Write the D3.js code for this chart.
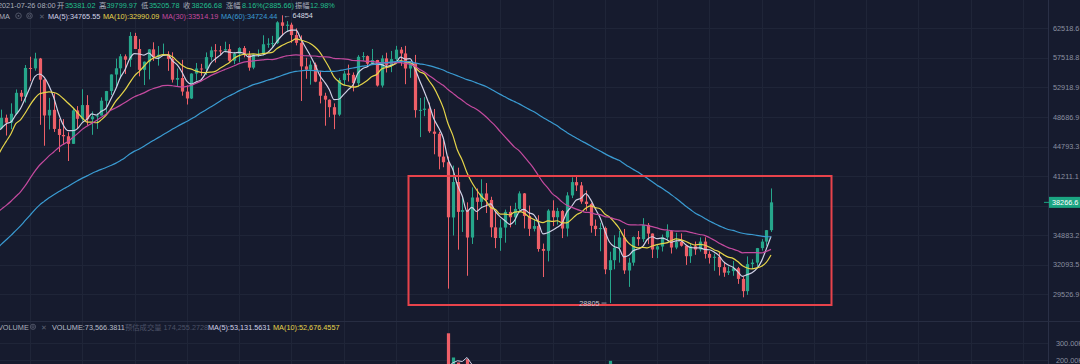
<!DOCTYPE html>
<html>
<head>
<meta charset="utf-8">
<script src="https://cdnjs.cloudflare.com/ajax/libs/d3/7.8.5/d3.min.js"></script>
<style>
  html, body { margin: 0; padding: 0; background: #161b2e; overflow: hidden; }
  svg { display: block; }
  text { font-family: "Liberation Sans", "Noto Sans CJK SC", sans-serif; font-size: 7.3px; }
</style>
</head>
<body>
<div id="chart"></div>
<script>
// BTC daily candles, 2021-02-13 .. 2021-07-26 (log price axis)

// closes before the first visible candle (2020-12-15 .. 2021-02-12), only used to warm up the MAs
const warmupCloses = [
  19426, 21335, 22797, 23107, 23821, 23455, 22719, 23810, 23232, 23729, 24712, 26493, 26281, 27079, 27385, 28875, 28923,
  29331, 32178, 33000, 31988, 33949, 36769, 39432, 40582, 40088, 38150, 35404, 34051, 37371, 39144, 36742, 35994,
  35828, 36631, 35891, 35468, 30850, 32945, 32078, 32259, 32254, 32467, 30366, 33364, 34252, 34262, 33092,
  33526, 35466, 37618, 36936, 38290, 39186, 38795, 46374, 46420, 44807, 47969, 47287
]

const opens = [
  // feb
  47288, 47153, 48577, 47911, 49133, 52119, 51552, 55906, 55841, 57412, 54087, 48891, 49676, 47073, 46276, 46104,
  // mar
  45134, 49595, 48436, 50349, 48374, 48747, 48882, 50959, 52375, 54874, 55851, 57773, 57221, 61188, 58976, 55605,
  56900, 58912, 57641, 58031, 58101, 57351, 54083, 54342, 52303, 51293, 55025, 55818, 55781, 57635, 58760,
  // apr
  58739, 58720, 58950, 57051, 58202, 59129, 57991, 55953, 58077, 58142, 59778, 59861, 59964, 63575, 62959, 63159,
  61334, 60006, 56151, 55633, 56425, 53788, 51690, 51110, 50047, 49004, 54021, 55033, 54825, 53555,
  // may
  57697, 57797, 56578, 57169, 53200, 57436, 56393, 57315, 58866, 58240, 55816, 56670, 49537, 49671, 49845, 46716,
  46426, 43538, 42849, 36671, 40526, 37253, 37449, 34655, 38796, 38324, 39241, 38529, 35661, 34605, 35641,
  // jun
  37253, 36694, 37568, 39246, 36829, 35517, 35796, 33556, 33380, 37388, 36697, 37340, 35546, 39021, 40516, 40143,
  38349, 38099, 35820, 35483, 35600, 31614, 32509, 33675, 34663, 31576, 32283, 34702, 34494, 35911,
  // jul
  35045, 33502, 33786, 34669, 35288, 33690, 34220, 33863, 32875, 33815, 33502, 34259, 33086, 32730, 32820, 31874,
  31384, 31521, 31778, 30839, 29790, 32144, 32287, 33634, 34261, 35381.02
]
const highs = [
  48190, 49707, 49010, 50600, 52618, 52530, 56368, 57700, 58352, 57508, 54183, 51374, 52041, 48424, 48395, 46638,
  49790, 50200, 52640, 51773, 49448, 49200, 51450, 52402, 54900, 57387, 58150, 58081, 61844, 61724, 60633, 56938,
  58974, 60098, 59468, 59880, 58593, 58430, 55830, 57200, 53230, 55073, 56700, 56559, 58405, 59368, 59800,
  59490, 60200, 59791, 58492, 59284, 59471, 58655, 58153, 58894, 61300, 60790, 61200, 63777, 64854, 63800, 63520,
  62506, 61288, 57526, 57076, 56757, 55451, 52130, 51167, 50595, 54356, 55460, 56428, 55195, 57963,
  58458, 57911, 58981, 57200, 57937, 58360, 58650, 59500, 59300, 59500, 56862, 58000, 51367, 51483, 50700, 49800,
  46686, 45799, 43546, 42451, 42200, 38829, 38270, 39920, 39791, 40841, 40411, 38877, 37338, 36488, 37499,
  37894, 38225, 39476, 39289, 37925, 36480, 36900, 34068, 37534, 38491, 37680, 37440, 39380, 41064, 41330, 40527,
  39560, 38200, 36457, 36137, 35750, 33298, 34881, 35298, 35500, 32730, 34749, 35297, 36600, 36100,
  35057, 33977, 34945, 35967, 35293, 35118, 35059, 33863, 34100, 34262, 34666, 34679, 33340, 33114, 33185, 32249,
  31935, 32435, 31899, 31063, 32858, 32591, 33650, 34500, 35398, 39799.97
]
const lows = [
  46300, 47015, 46202, 47026, 48947, 50901, 50710, 53863, 55477, 47622, 44892, 47003, 46674, 44106, 45000, 43000,
  45115, 47047, 48100, 47500, 46300, 47070, 48882, 49274, 51789, 53005, 54272, 54962, 56078, 58966, 54600, 53271,
  54123, 57023, 56270, 57820, 55450, 53650, 53000, 51700, 50427, 51214, 53950, 54691, 54800, 57071, 56769,
  57935, 58428, 56880, 56500, 56800, 57600, 55473, 55700, 57654, 57900, 59177, 59340, 59800, 61301, 62020, 60000,
  59580, 50931, 54221, 53329, 53696, 50583, 47500, 48657, 47044, 48800, 53222, 53813, 52330, 53013,
  57037, 56035, 56435, 53046, 52900, 55200, 55241, 56900, 56235, 53400, 54370, 48600, 46000, 48800, 46555, 43825,
  42001, 42250, 30000, 34850, 33488, 35200, 31111, 34031, 36419, 37800, 37134, 34684, 33632, 33379, 34153,
  35666, 35920, 37170, 35555, 34800, 35258, 33300, 31000, 32396, 35782, 35936, 34600, 34757, 38730, 39506, 38116,
  37365, 35129, 34803, 33336, 31251, 28805, 31683, 32286, 31275, 30151, 32000, 33862, 34225, 34017,
  32711, 32699, 33316, 34357, 33125, 33532, 33777, 32077, 32261, 33004, 33307, 32658, 32202, 31550, 31133, 31020,
  31178, 31108, 30407, 29278, 29482, 31708, 31924, 33401, 33851, 35205.78
]
const closes = [
  47153, 48577, 47911, 49133, 52119, 51552, 55906, 55841, 57408, 54087, 48891, 49676, 47073, 46276, 46106, 45135,
  49587, 48440, 50349, 48374, 48751, 48882, 50971, 52375, 54884, 55851, 57773, 57221, 61188, 58968, 55605, 56900,
  58912, 57648, 58030, 58102, 57351, 54083, 54340, 52303, 51293, 55025, 55817, 55777, 57635, 58746, 58740,
  58720, 58950, 57051, 58202, 59129, 57991, 55953, 58077, 58142, 59769, 59860, 59964, 63577, 62959, 63159, 61334,
  60006, 56150, 55633, 56425, 53787, 51690, 51125, 50047, 49004, 54021, 55033, 54824, 53555, 57694,
  57800, 56578, 57169, 53200, 57436, 56393, 57314, 58862, 58240, 55816, 56670, 49631, 49670, 49841, 46762, 46431,
  43538, 42849, 36690, 40526, 37252, 37449, 34655, 38796, 38324, 39241, 38529, 35664, 34605, 35641, 37253,
  36693, 37568, 39246, 36829, 35513, 35796, 33552, 33380, 37389, 36697, 37340, 35545, 39020, 40516, 40144, 38349,
  38092, 35820, 35484, 35601, 31676, 32505, 33676, 34663, 31584, 32283, 34700, 34494, 35911, 35045,
  33504, 33801, 34669, 35287, 33690, 34220, 33863, 32875, 33815, 33502, 34259, 33086, 32730, 32820, 31880, 31383,
  31521, 31778, 30839, 29790, 32144, 32287, 33634, 34258, 35381, 38266.68
]
// volume (BTC), most of these sit below the visible strip, only the big days poke up
const volumes = [
  68000, 79000, 80000, 77000, 88000, 58000, 83000, 87000, 51000, 112000, 140000, 91000, 78000, 113000, 63000, 63000,
  81000, 60000, 71000, 73000, 77000, 35000, 44000, 64000, 67000, 71000, 66000, 69000, 79000, 50000, 85000, 68000,
  67000, 64000, 52000, 44000, 47000, 70000, 66000, 84000, 77000, 67000, 38000, 32000, 58000, 52000, 65000,
  47000, 47000, 47000, 41000, 51000, 54000, 72000, 45000, 46000, 69000, 34000, 56000, 91000, 105000, 65000, 85000,
  53000, 129000, 78000, 84000, 69000, 104000, 131000, 72000, 65000, 86000, 68000, 61000, 69000, 77000,
  42000, 42000, 61000, 80000, 72000, 64000, 75000, 50000, 77000, 103000, 79000, 116000, 148000, 92000, 106000, 120000,
  133000, 85000, 360000, 215000, 185000, 110000, 205000, 160000, 97000, 88000, 75000, 111000, 122000, 68000, 103000,
  79000, 58000, 76000, 117000, 76000, 36000, 74000, 122000, 123000, 112000, 76000, 68000, 71000, 108000, 80000, 81000,
  87000, 93000, 70000, 89000, 134000, 195000, 105000, 75000, 109000, 106000, 76000, 90000, 89000, 69000,
  71000, 47000, 38000, 40000, 57000, 61000, 42000, 66000, 64000, 30000, 24000, 48000, 44000, 54000, 55000, 38000,
  26250, 32200, 51300, 73400, 77957, 38550, 45300, 41950, 66292, 73566.38
]

// right axis tick labels (log spaced), 37915.9 sits under the last price tag
const priceTicks = [62518.6, 57518.8, 52918.9, 48686.9, 44793.3, 41211.1, 37915.9, 34883.2, 32093.5, 29526.9]
const volumeTicks = [300000, 200000]
const volumeTickLabels = ['300.00K', '200.00K']

const maPeriods = [5, 10, 30, 60]
const maColors = ['#d0d1e6', '#e6d54a', '#c44a9f', '#3a9bd2']

const UP = '#26a68b', DOWN = '#ee5f68'
const W = 1080, H = 364
const plotRight = 1048

const svg = d3.select('#chart').append('svg').attr('width', W).attr('height', H)
svg.append('rect').attr('width', W).attr('height', H).attr('fill', '#161b2e')

// scales
var x = d3.scaleLinear().domain([0, closes.length - 1]).range([-3.25, 771])
var y = d3.scaleLog().domain([62518.6, 29526.9]).range([28.3, 294.3])
var yv = d3.scaleLinear().domain([0, 300000]).range([393.4, 343.3])

// grid, vertical lines every 11 candles
const grid = svg.append('g').attr('stroke', '#1f2538').attr('stroke-width', 1)
d3.range(7, 225, 11).forEach(i => {
  let gx = Math.round(x(i)) + 0.5
  if (gx < plotRight) grid.append('line').attr('x1', gx).attr('x2', gx).attr('y1', 0).attr('y2', H)
})
priceTicks.forEach(p => {
  let gy = Math.round(y(p)) + 0.5
  grid.append('line').attr('x1', 0).attr('x2', plotRight).attr('y1', gy).attr('y2', gy)
})
volumeTicks.forEach(v => {
  let gy = Math.round(yv(v)) + 0.5
  grid.append('line').attr('x1', 0).attr('x2', plotRight).attr('y1', gy).attr('y2', gy)
})

// pane separators
svg.append('line').attr('x1', plotRight + 0.5).attr('x2', plotRight + 0.5).attr('y1', 0).attr('y2', H)
  .attr('stroke', '#2a3046')
svg.append('line').attr('x1', 0).attr('x2', W).attr('y1', 321.5).attr('y2', 321.5)
  .attr('stroke', '#272d42')

svg.append('clipPath').attr('id', 'pricePane').append('rect')
  .attr('x', 0).attr('y', 0).attr('width', plotRight).attr('height', 321)
svg.append('clipPath').attr('id', 'volPane').append('rect')
  .attr('x', 0).attr('y', 322).attr('width', plotRight).attr('height', H - 322)

// candles
const price = svg.append('g').attr('clip-path', 'url(#pricePane)')
const bw = 3.2
closes.forEach((c, i) => {
  let o = opens[i], col = c >= o ? UP : DOWN
  let cx = Math.round(x(i)) + 0.5
  price.append('line').attr('x1', cx).attr('x2', cx)
    .attr('y1', y(highs[i])).attr('y2', y(lows[i]))
    .attr('stroke', col).attr('stroke-width', 1)
  let top = Math.min(y(o), y(c))
  price.append('rect').attr('x', cx - bw / 2).attr('y', top)
    .attr('width', bw).attr('height', Math.max(1, Math.abs(y(o) - y(c))))
    .attr('fill', col)
})

// moving averages, warm-up closes go first so the early MA60 exists
const allCloses = warmupCloses.concat(closes)
function ma(n) {
  return closes.map((c, i) => {
    let j = i + warmupCloses.length
    if (j - n + 1 < 0) return null
    return d3.mean(allCloses.slice(j - n + 1, j + 1))
  })
}
var maLine = d3.line().defined(d => d != null).x((d, i) => x(i)).y(d => y(d)).curve(d3.curveMonotoneX)
maPeriods.forEach((n, k) => {
  price.append('path').datum(ma(n)).attr('d', maLine)
    .attr('fill', 'none').attr('stroke', maColors[k]).attr('stroke-width', 1.2)
})

// the box round the range
svg.append('rect').attr('x', 408.5).attr('y', 176).attr('width', 423).attr('height', 129)
  .attr('fill', 'none').attr('stroke', '#e8434b').attr('stroke-width', 2)

// high / low markers
const hiIdx = d3.maxIndex(highs), loIdx = d3.minIndex(lows)
svg.append('text').attr('x', x(hiIdx) + 1.5).attr('y', y(highs[hiIdx]) + 2.6)
  .attr('fill', '#d6d9e2').text('← ' + highs[hiIdx])
svg.append('line').attr('x1', x(loIdx) - 8).attr('x2', x(loIdx) - 3)
  .attr('y1', y(lows[loIdx])).attr('y2', y(lows[loIdx])).attr('stroke', '#aab0bf').attr('stroke-width', 0.8)
svg.append('text').attr('x', x(loIdx) - 10).attr('y', y(lows[loIdx]) + 2.6)
  .attr('text-anchor', 'end').attr('fill', '#c3c7d2').text(lows[loIdx])

// volume pane
const vol = svg.append('g').attr('clip-path', 'url(#volPane)')
volumes.forEach((v, i) => {
  let col = closes[i] >= opens[i] ? UP : DOWN
  let cx = Math.round(x(i)) + 0.5
  vol.append('rect').attr('x', cx - bw / 2).attr('y', yv(v))
    .attr('width', bw).attr('height', yv(0) - yv(v)).attr('fill', col)
})
function vma(n) {
  return volumes.map((v, i) => i < n - 1 ? null : d3.mean(volumes.slice(i - n + 1, i + 1)))
}
var vLine = d3.line().defined(d => d != null).x((d, i) => x(i)).y(d => yv(d))
;[[5, '#d0d1e6'], [10, '#e6d54a']].forEach(p => {
  vol.append('path').datum(vma(p[0])).attr('d', vLine)
    .attr('fill', 'none').attr('stroke', p[1]).attr('stroke-width', 1)
})

// last price (tag covers the tick label behind it)
const last = closes[closes.length - 1]
const ly = y(last)

// right axis
const axisCol = '#8a8fa0'
priceTicks.forEach(p => {
  if (Math.abs(y(p) - ly) < 9) return
  svg.append('text').attr('x', 1053).attr('y', y(p) + 2.6).attr('fill', axisCol).text(p.toFixed(1))
})
volumeTicks.forEach((v, k) => {
  svg.append('text').attr('x', 1056).attr('y', yv(v) + 2.6).attr('fill', axisCol).text(volumeTickLabels[k])
})

svg.append('rect').attr('x', plotRight + 1).attr('y', ly - 5.5).attr('width', W - plotRight).attr('height', 11)
  .attr('fill', '#1ba582')
svg.append('line').attr('x1', plotRight - 4).attr('x2', plotRight + 1).attr('y1', ly).attr('y2', ly)
  .attr('stroke', '#1ba582')
svg.append('text').attr('x', 1052).attr('y', ly + 2.6).attr('fill', '#ffffff')
  .text((Math.floor(last * 10) / 10).toFixed(1))

// header texts
const GRAY = '#a9aebb', GREEN = '#22bf8d'
function label(xp, yp, str, col) {
  svg.append('text').attr('x', xp).attr('y', yp).attr('fill', col).text(str)
}
const r1 = 7.6, r2 = 18.6
label(-2, r1, '2021-07-26 08:00', GRAY)
label(57, r1, '开', GRAY); label(65, r1, '35381.02', GREEN)
label(99, r1, '高', GRAY); label(106.5, r1, '39799.97', GREEN)
label(141, r1, '低', GRAY); label(149, r1, '35205.78', GREEN)
label(183, r1, '收', GRAY); label(191.5, r1, '38266.68', GREEN)
label(226, r1, '涨幅', GRAY); label(242, r1, '8.16%(2885.66)', GREEN)
label(295, r1, '振幅', GRAY); label(310, r1, '12.98%', GREEN)

label(-1, r2, 'MA', GRAY)
// eye, gear, close icons
svg.append('circle').attr('cx', 18.5).attr('cy', 15.8).attr('r', 2.8).attr('fill', 'none').attr('stroke', '#5d6274').attr('stroke-width', 0.8)
svg.append('circle').attr('cx', 18.5).attr('cy', 15.8).attr('r', 0.9).attr('fill', '#5d6274')
svg.append('circle').attr('cx', 29.5).attr('cy', 15.8).attr('r', 2.8).attr('fill', 'none').attr('stroke', '#5d6274').attr('stroke-width', 0.8)
svg.append('circle').attr('cx', 29.5).attr('cy', 15.8).attr('r', 1.2).attr('fill', 'none').attr('stroke', '#5d6274').attr('stroke-width', 0.7)
label(38.5, r2, '✕', '#5d6274')
label(48, r2, 'MA(5):34765.55', maColors[0])
label(103, r2, 'MA(10):32990.09', maColors[1])
label(162, r2, 'MA(30):33514.19', maColors[2])
label(221, r2, 'MA(60):34724.44', maColors[3])

const r3 = 329.5
label(-2, r3, 'VOLUME', GRAY)
svg.append('circle').attr('cx', 33).attr('cy', 326.8).attr('r', 2.6).attr('fill', 'none').attr('stroke', '#5d6274').attr('stroke-width', 0.8)
svg.append('circle').attr('cx', 33).attr('cy', 326.8).attr('r', 1.1).attr('fill', 'none').attr('stroke', '#5d6274').attr('stroke-width', 0.7)
label(40.5, r3, '✕', '#5d6274')
label(52, r3, 'VOLUME:73,566.3811', '#b9bdc8')
label(125, r3, '预估成交量 174,255.2728', '#4c5266')
label(208, r3, 'MA(5):53,131.5631', maColors[0])
label(273, r3, 'MA(10):52,676.4557', maColors[1])
</script>
</body>
</html>
